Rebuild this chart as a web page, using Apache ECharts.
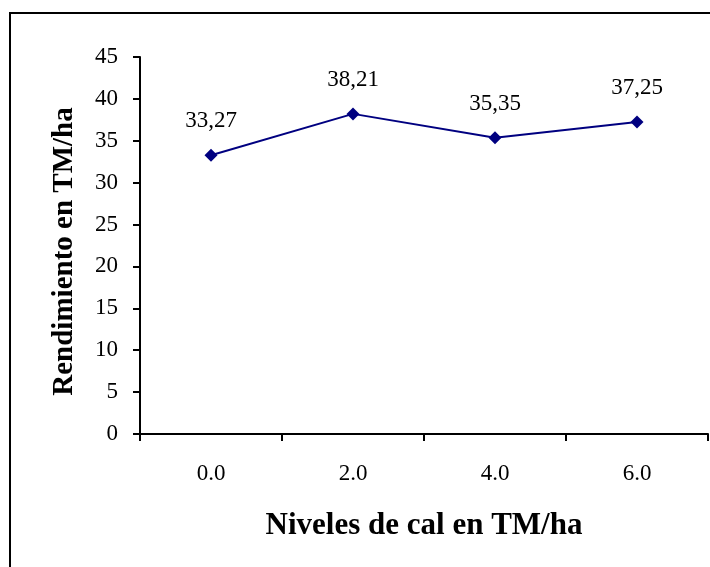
<!DOCTYPE html>
<html>
<head>
<meta charset="utf-8">
<script src="https://cdn.jsdelivr.net/npm/echarts@6/dist/echarts.min.js"></script>
<style>
html,body{margin:0;padding:0;background:#fff;}
#chart{width:710px;height:567px;}
</style>
</head>
<body>
<div id="chart"></div>
<script>
const categories = ['0.0', '2.0', '4.0', '6.0'];
const rendimiento = [33.27, 38.21, 35.35, 37.25];
const yTitle = 'Rendimiento en TM/ha';
const xTitle = 'Niveles de cal en TM/ha';

const chart = echarts.init(document.getElementById('chart'));
const serif = '"Liberation Serif", "Times New Roman", serif';
chart.setOption({
  animation: false,
  backgroundColor: '#fff',
  graphic: [{
    type: 'rect',
    shape: {x: 10, y: 13, width: 720, height: 600},
    style: {fill: 'none', stroke: '#000', lineWidth: 2},
    silent: true
  }],
  grid: {left: 140, right: 2, top: 57, bottom: 133, containLabel: false},
  xAxis: {
    type: 'category',
    data: categories,
    boundaryGap: true,
    axisLine: {lineStyle: {color: '#000', width: 2}},
    axisTick: {show: true, length: 7, lineStyle: {color: '#000', width: 2}},
    axisLabel: {color: '#000', fontFamily: serif, fontSize: 23, margin: 28},
    name: xTitle,
    nameLocation: 'middle',
    nameGap: 76,
    nameTextStyle: {color: '#000', fontFamily: serif, fontSize: 31, fontWeight: 'bold'},
    splitLine: {show: false}
  },
  yAxis: {
    type: 'value',
    min: 0, max: 45, interval: 5,
    axisLine: {show: true, lineStyle: {color: '#000', width: 2}},
    axisTick: {show: true, length: 7, lineStyle: {color: '#000', width: 2}},
    axisLabel: {color: '#000', fontFamily: serif, fontSize: 23, margin: 22},
    splitLine: {show: false},
    name: yTitle,
    nameLocation: 'middle',
    nameGap: 61,
    nameTextStyle: {color: '#000', fontFamily: serif, fontSize: 29, fontWeight: 'bold', padding: [0, 12, 0, 0]}
  },
  series: [{
    type: 'line',
    data: rendimiento,
    symbol: 'diamond',
    symbolSize: 13,
    itemStyle: {color: '#000080'},
    lineStyle: {color: '#000080', width: 2},
    label: {
      show: true,
      position: 'top',
      distance: 16,
      color: '#000',
      fontFamily: serif,
      fontSize: 23,
      formatter: p => p.value.toFixed(2).replace('.', ',')
    }
  }]
});
</script>
</body>
</html>
